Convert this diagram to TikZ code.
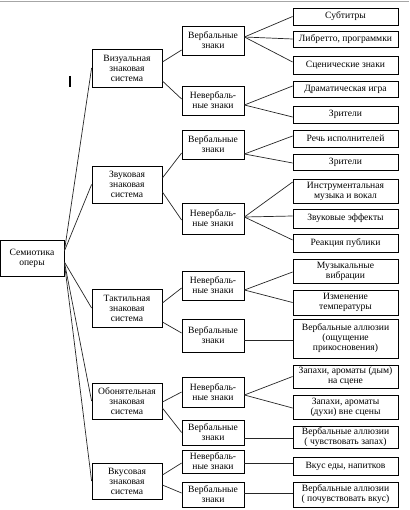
\documentclass[tikz,border=0pt]{standalone}
\usepackage{fontspec}
\setmainfont{Liberation Serif}
\begin{document}
\begin{tikzpicture}[x=1pt,y=-1pt,
  box/.style={draw=black, line width=0.8pt, inner sep=0pt, align=center, fill=white,
    font=\fontsize{9.6}{10}\selectfont},
  link/.style={draw=black!85, line width=0.7pt}]
\useasboundingbox (0,0) rectangle (409,510);
\newcommand\mybox[6]{\node[box, minimum width={#4-#2}, minimum height={#5-#3}] (#1) at ({(#2+#4)/2},{(#3+#5)/2}) {#6};}
% top strip
\draw[black!35, line width=0.8pt] (0,1) -- (409,1);
% root
\mybox{root}{0}{240}{64}{276}{Семиотика\\оперы}
% level 1
\mybox{vis}{92}{49}{162}{87}{Визуальная\\знаковая\\система}
\mybox{snd}{92}{166}{162}{203}{Звуковая\\знаковая\\система}
\mybox{tac}{92}{289}{162}{327}{Тактильная\\знаковая\\система}
\mybox{sml}{92}{383}{162}{419}{Обонятельная\\знаковая\\система}
\mybox{tst}{92}{463}{162}{499}{Вкусовая\\знаковая\\система}
% level 2
\mybox{visV}{182}{26}{244}{55}{Вербальные\\знаки}
\mybox{visN}{182}{86}{244}{115}{Невербаль-\\ные знаки}
\mybox{sndV}{182}{130}{244}{159}{Вербальные\\знаки}
\mybox{sndN}{182}{203}{244}{234}{Невербаль-\\ные знаки}
\mybox{tacN}{182}{271}{244}{300}{Невербаль-\\ные знаки}
\mybox{tacV}{182}{319}{244}{352}{Вербальные\\знаки}
\mybox{smlN}{182}{377}{244}{407}{Невербаль-\\ные знаки}
\mybox{smlV}{182}{420}{244}{445}{Вербальные\\знаки}
\mybox{tstN}{182}{450}{244}{473}{Невербаль-\\ные знаки}
\mybox{tstV}{182}{482}{244}{507}{Вербальные\\знаки}
% level 3
\mybox{r1}{293}{8}{398}{25}{Субтитры}
\mybox{r2}{293}{31}{398}{47}{Либретто, программки}
\mybox{r3}{293}{56}{398}{74}{Сценические знаки}
\mybox{r4}{293}{81}{398}{97}{Драматическая игра}
\mybox{r5}{293}{106}{398}{123}{Зрители}
\mybox{r6}{293}{130}{398}{147}{Речь исполнителей}
\mybox{r7}{293}{154}{398}{170}{Зрители}
\mybox{r8}{293}{179}{398}{203}{Инструментальная\\музыка и вокал}
\mybox{r9}{293}{209}{398}{228}{Звуковые эффекты}
\mybox{r10}{293}{234}{398}{252}{Реакция публики}
\mybox{r11}{293}{259}{398}{283}{Музыкальные\\вибрации}
\mybox{r12}{293}{290}{398}{315}{Изменение\\температуры}
\mybox{r13}{293}{319}{398}{358}{Вербальные аллюзии\\(ощущение\\прикосновения)}
\mybox{r14}{293}{365}{398}{388}{Запахи, ароматы (дым)\\на сцене}
\mybox{r15}{293}{395}{398}{419}{Запахи, ароматы\\(духи) вне сцены}
\mybox{r16}{293}{426}{398}{448}{Вербальные аллюзии\\( чувствовать запах)}
\mybox{r17}{293}{457}{398}{475}{Вкус еды, напитков}
\mybox{r18}{293}{482}{398}{507}{Вербальные аллюзии\\( почувствовать вкус)}
% stray cursor mark
\coordinate (cA) at (70,76); \coordinate (cB) at (70,87);
\draw[line width=1.4pt] (cA) -- (cB);
% root links
\draw[link] ([yshift=7pt]root.east) -- (vis.west);
\draw[link] ([yshift=7pt]root.east) -- (snd.west);
\draw[link] ([yshift=-4pt]root.east) -- (tac.west);
\draw[link] ([yshift=-4pt]root.east) -- (sml.west);
\draw[link] ([yshift=-5pt]root.east) -- (tst.west);
% level1 -> level2
\draw[link] ([yshift=6pt]vis.east) -- ([yshift=-9.5pt]visV.west);
\draw[link] ([yshift=-13pt]vis.east) -- ([yshift=1.5pt]visN.west);
\draw[link] ([yshift=6.5pt]snd.east) -- ([yshift=-8.5pt]sndV.west);
\draw[link] ([yshift=-7.5pt]snd.east) -- ([yshift=-1.5pt]sndN.west);
\draw[link] ([yshift=5pt]tac.east) -- ([yshift=-2.5pt]tacN.west);
\draw[link] ([yshift=-14pt]tac.east) -- ([yshift=2.5pt]tacV.west);
\draw[link] ([yshift=-1pt]sml.east) -- (smlN.west);
\draw[link] ([yshift=-7pt]sml.east) -- (smlV.west);
\draw[link] ([yshift=6pt]tst.east) -- ([yshift=-1.5pt]tstN.west);
\draw[link] ([yshift=-4pt]tst.east) -- ([yshift=1.5pt]tstV.west);
% level2 -> level3
\draw[link] ([yshift=3.5pt]visV.east) -- (r1.west);
\draw[link] ([yshift=3.5pt]visV.east) -- (r2.west);
\draw[link] ([yshift=3.5pt]visV.east) -- ([yshift=3pt]r3.west);
\draw[link] ([yshift=-4.5pt]visN.east) -- ([yshift=3pt]r4.west);
\draw[link] ([yshift=-4.5pt]visN.east) -- ([yshift=-2.5pt]r5.west);
\draw[link] ([yshift=-9.5pt]sndV.east) -- ([yshift=2.5pt]r6.west);
\draw[link] ([yshift=-9.5pt]sndV.east) -- ([yshift=-1pt]r7.west);
\draw[link] ([yshift=1.5pt]sndN.east) -- ([yshift=9pt]r8.west);
\draw[link] ([yshift=1.5pt]sndN.east) -- ([yshift=2.5pt]r9.west);
\draw[link] ([yshift=1.5pt]sndN.east) -- ([yshift=3pt]r10.west);
\draw[link] ([yshift=-4.5pt]tacN.east) -- ([yshift=-1pt]r11.west);
\draw[link] ([yshift=-4.5pt]tacN.east) -- (r12.west);
\draw[link] ([yshift=-4.5pt]tacV.east) -- ([yshift=-4.5pt]tacV.east -| r13.west);
\draw[link] ([yshift=-3pt]smlN.east) -- (r14.west);
\draw[link] ([yshift=-3pt]smlN.east) -- ([yshift=-1pt]r15.west);
\draw[link] ([yshift=-5.5pt]smlV.east) -- ([yshift=-5.5pt]smlV.east -| r16.west);
\draw[link] ([yshift=-1.5pt]tstN.east) -- ([yshift=-1.5pt]tstN.east -| r17.west);
\draw[link] ([yshift=1.5pt]tstV.east) -- ([yshift=1.5pt]tstV.east -| r18.west);
\end{tikzpicture}
\end{document}
